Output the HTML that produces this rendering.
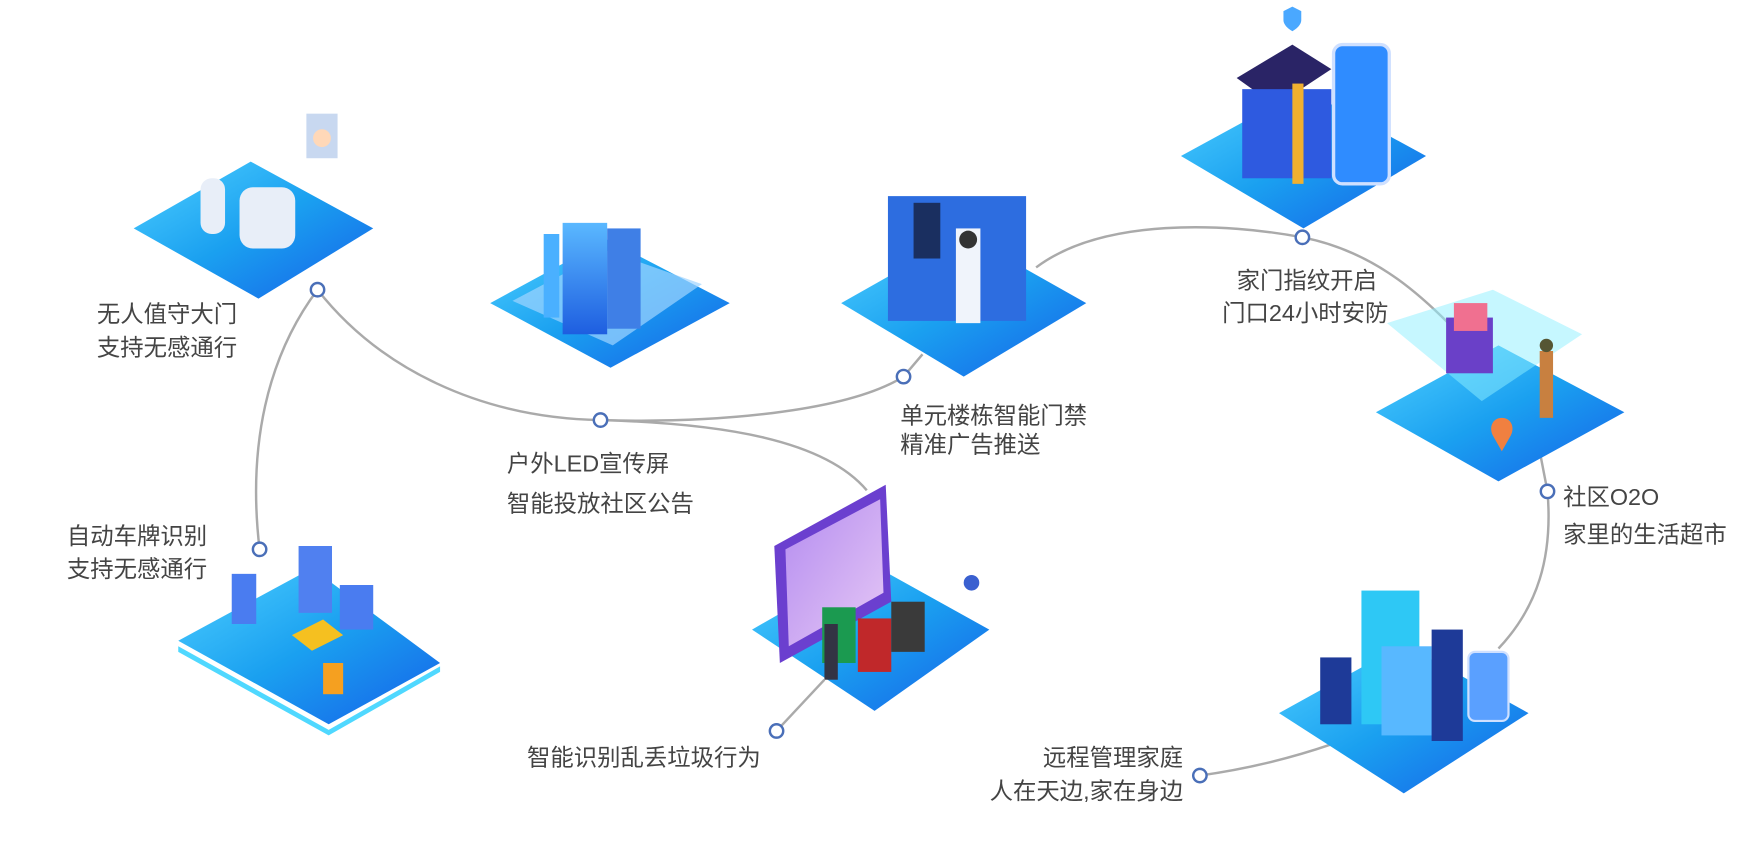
<!DOCTYPE html>
<html><head><meta charset="utf-8"><style>
html,body{margin:0;padding:0;background:#fff;width:1738px;height:858px;overflow:hidden}
text{font-family:"Liberation Sans","Noto Sans CJK SC",sans-serif;font-size:21px;fill:#444}
</style></head><body>
<svg width="1738" height="858" viewBox="0 0 1560 770" preserveAspectRatio="none" xmlns="http://www.w3.org/2000/svg">
<defs>
<linearGradient id="pl" x1="0" y1="0" x2="1" y2="1"><stop offset="0" stop-color="#4fd0ff"/><stop offset="0.5" stop-color="#1aa0f0"/><stop offset="1" stop-color="#1560e8"/></linearGradient>
<linearGradient id="bl" x1="0" y1="0" x2="0" y2="1"><stop offset="0" stop-color="#5ab8ff"/><stop offset="1" stop-color="#1e5ee0"/></linearGradient>
<linearGradient id="sc" x1="0" y1="0" x2="1" y2="1"><stop offset="0" stop-color="#b48cf0"/><stop offset="1" stop-color="#e6c8f5"/></linearGradient>
</defs>
<g fill="none" stroke="#aaa" stroke-width="2.2">
<path d="M285,260 C340,330 430,375 539,377 C640,380 760,370 811,338 L828,318"/>
<path d="M539,377 C650,380 740,395 778,440"/>
<path d="M930,240 C990,195 1100,200 1169,213 C1230,225 1270,260 1300,290"/>
<path d="M1383,410 L1389,441 C1394,500 1380,545 1345,582"/>
<path d="M1077,696 C1120,690 1160,680 1195,668"/>
<path d="M697,656 L740,610"/>
<path d="M233,493 C222,400 240,320 285,260"/>
</g>
<g>
<polygon points="120,205 225,145 335,205 232,268" fill="url(#pl)"/>
<rect x="180" y="160" width="22" height="50" rx="10" fill="#e8eef8"/><rect x="215" y="168" width="50" height="55" rx="12" fill="#e8eef8"/>
<rect x="275" y="102" width="28" height="40" fill="#c8d8f0"/><circle cx="289" cy="124" r="8" fill="#ffd8b8"/>
<polygon points="440,272 545,215 655,272 548,330" fill="url(#pl)"/>
<polygon points="460,270 545,225 630,255 550,310" fill="#9fd4ff" opacity="0.7"/>
<rect x="505" y="200" width="40" height="100" fill="url(#bl)"/><rect x="545" y="205" width="30" height="90" fill="#3f7fe6"/><rect x="488" y="210" width="14" height="75" fill="#4ab0ff"/>
<polygon points="755,272 865,210 975,272 865,338" fill="url(#pl)"/>
<rect x="797" y="176" width="124" height="112" fill="#2d6de0"/><rect x="820" y="182" width="24" height="50" fill="#1a2f60"/><rect x="858" y="205" width="22" height="85" fill="#f0f4fb"/><circle cx="869" cy="215" r="8" fill="#333"/>
<polygon points="1060,140 1170,80 1280,140 1170,205" fill="url(#pl)"/>
<polygon points="1110,70 1160,40 1195,62 1145,95" fill="#2a2466"/><rect x="1115" y="80" width="80" height="80" fill="#2e5ae0"/><rect x="1160" y="75" width="10" height="90" fill="#f0b030"/>
<rect x="1197" y="40" width="50" height="125" rx="8" fill="#2f8cff" stroke="#cfe0ff" stroke-width="3"/>
<path d="M1160,6 l8,4 v8 c0,6 -8,10 -8,10 c0,0 -8,-4 -8,-10 v-8z" fill="#4aa8ff"/>
<polygon points="1235,370 1345,310 1458,370 1345,432" fill="url(#pl)"/>
<polygon points="1245,290 1340,260 1420,300 1330,360" fill="#8ef0ff" opacity="0.5"/>
<rect x="1298" y="285" width="42" height="50" fill="#6a40c8"/><rect x="1305" y="272" width="30" height="25" fill="#f07090"/>
<rect x="1382" y="315" width="12" height="60" fill="#c88040"/><circle cx="1388" cy="310" r="6" fill="#553"/>
<path d="M1348,375 c-8,0 -12,8 -8,16 l8,14 l8,-14 c4,-8 0,-16 -8,-16z" fill="#f08040"/>
<polygon points="1148,640 1260,578 1372,640 1260,712" fill="url(#pl)"/>
<rect x="1222" y="530" width="52" height="120" fill="#2ec8f5"/><rect x="1240" y="580" width="45" height="80" fill="#58b8ff"/><rect x="1285" y="565" width="28" height="100" fill="#1e3a98"/>
<rect x="1185" y="590" width="28" height="60" fill="#1e3a98"/><rect x="1318" y="585" width="36" height="62" rx="6" fill="#5aa0ff" stroke="#cfe0ff" stroke-width="2"/>
<polygon points="675,565 780,505 888,565 785,638" fill="url(#pl)"/>
<polygon points="695,490 795,435 800,540 700,595" fill="#6b3fcf"/><polygon points="705,493 790,448 793,532 708,580" fill="url(#sc)"/>
<rect x="738" y="545" width="30" height="50" fill="#1b9a50"/><rect x="770" y="555" width="30" height="48" fill="#c0282a"/><rect x="800" y="540" width="30" height="45" fill="#3a3a3a"/>
<rect x="740" y="560" width="12" height="50" fill="#334"/>
<circle cx="872" cy="523" r="7" fill="#3a60d0"/>
<polygon points="160,575 280,510 395,595 295,650" fill="url(#pl)"/>
<polygon points="160,580 295,655 395,598 395,603 295,660 160,585" fill="#4fd8ff"/>
<rect x="208" y="515" width="22" height="45" fill="#4a7cf0"/><rect x="268" y="490" width="30" height="60" fill="#5080f0"/><rect x="305" y="525" width="30" height="40" fill="#4a7cf0"/>
<polygon points="262,570 290,556 308,570 280,584" fill="#f5c020"/><rect x="290" y="595" width="18" height="28" fill="#f5a020"/>
</g>
<g fill="#fff" stroke="#4a6fb8" stroke-width="2.2">
<circle cx="285" cy="260" r="6"/><circle cx="539" cy="377" r="6"/><circle cx="811" cy="338" r="6"/><circle cx="1169" cy="213" r="6"/>
<circle cx="1389" cy="441" r="6"/><circle cx="1077" cy="696" r="6"/><circle cx="697" cy="656" r="6"/><circle cx="233" cy="493" r="6"/>
</g>
<text x="87" y="289">无人值守大门</text><text x="87" y="319">支持无感通行</text>
<text x="455" y="423">户外LED宣传屏</text><text x="455" y="459">智能投放社区公告</text>
<text x="808" y="380">单元楼栋智能门禁</text><text x="808" y="406">精准广告推送</text>
<text x="1110" y="259">家门指纹开启</text><text x="1097" y="288">门口24小时安防</text>
<text x="1403" y="453">社区O2O</text><text x="1403" y="487">家里的生活超市</text>
<text x="1062" y="687" text-anchor="end">远程管理家庭</text><text x="1062" y="717" text-anchor="end">人在天边,家在身边</text>
<text x="473" y="687">智能识别乱丢垃圾行为</text>
<text x="60" y="488">自动车牌识别</text><text x="60" y="518">支持无感通行</text>
</svg>
</body></html>
